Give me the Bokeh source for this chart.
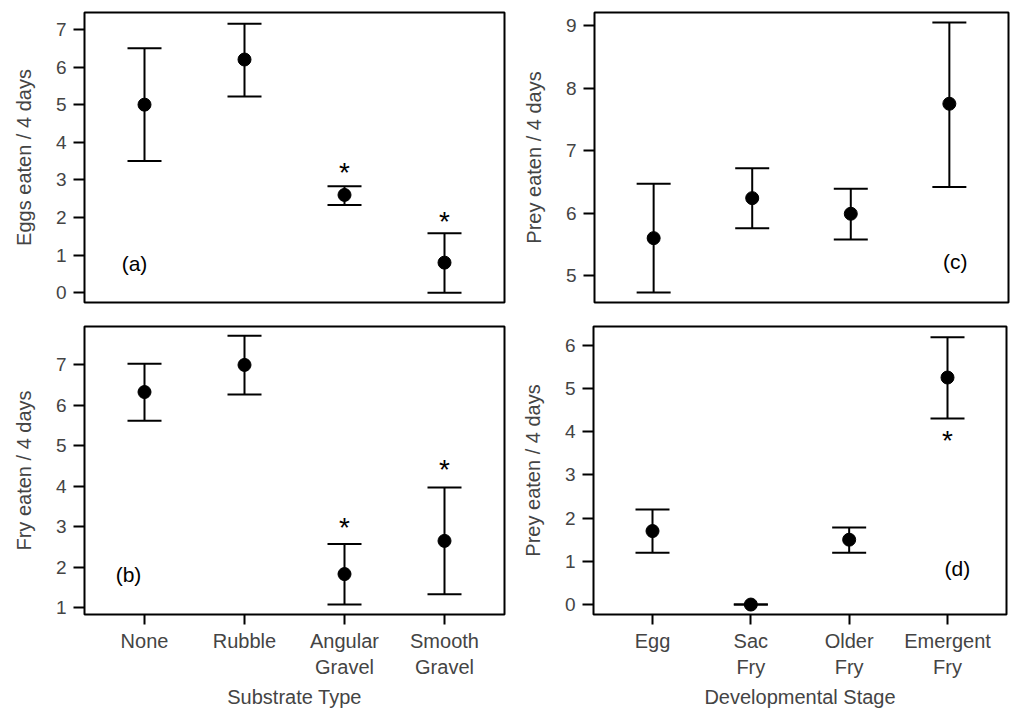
from bokeh.plotting import figure
from bokeh.models import ColumnDataSource, Whisker, TeeHead, FixedTicker, Range1d, Label
from bokeh.layouts import column, row
from bokeh.embed import file_html
from bokeh.resources import INLINE
from bokeh.core.properties import value

# ---------------- data ----------------
substrate = ["None", "Rubble", "Angular\nGravel", "Smooth\nGravel"]
stage = ["Egg", "Sac\nFry", "Older\nFry", "Emergent\nFry"]

# (a) eggs eaten by substrate
eggs_mean = [5.0, 6.2, 2.6, 0.8]
eggs_upper = [6.5, 7.15, 2.83, 1.58]
eggs_lower = [3.5, 5.22, 2.33, 0.0]
eggs_star_cat = [3, 4]
eggs_star_y = [3.38, 2.07]

# (b) fry eaten by substrate
fry_mean = [6.33, 7.0, 1.83, 2.65]
fry_upper = [7.03, 7.72, 2.57, 3.97]
fry_lower = [5.62, 6.27, 1.08, 1.33]
fry_star_cat = [3, 4]
fry_star_y = [3.16, 4.6]

# (c) prey eaten by developmental stage
prey_c_mean = [5.6, 6.24, 5.99, 7.75]
prey_c_upper = [6.47, 6.72, 6.39, 9.05]
prey_c_lower = [4.73, 5.76, 5.58, 6.42]

# (d) prey eaten by developmental stage
prey_d_mean = [1.7, 0.0, 1.5, 5.25]
prey_d_upper = [2.2, 0.0, 1.78, 6.18]
prey_d_lower = [1.2, 0.0, 1.2, 4.3]
prey_d_star_cat = [4]
prey_d_star_y = [3.96]

FONT = "Liberation Sans"


def panel(mean, upper, lower, ylabel, yrange, yticks, xlabels, xtitle,
          stars_x, stars_y, tag, tag_xy, size, borders):
    left, right, top, bottom = borders
    w, h = size
    p = figure(width=w, height=h, output_backend="svg",
               toolbar_location=None, x_range=Range1d(0.4, 4.6),
               y_range=Range1d(*yrange),
               min_border_left=left, min_border_right=right,
               min_border_top=top, min_border_bottom=bottom)
    p.grid.visible = False
    p.outline_line_color = "black"
    p.outline_line_width = 2
    p.outline_line_alpha = 1
    p.background_fill_color = "white"

    cats = list(range(1, len(mean) + 1))
    src = ColumnDataSource(dict(x=cats, mean=mean, upper=upper, lower=lower))
    wh = Whisker(base="x", upper="upper", lower="lower", source=src,
                 line_color="black", line_width=2,
                 upper_head=TeeHead(size=34, line_width=2, line_color="black"),
                 lower_head=TeeHead(size=34, line_width=2, line_color="black"))
    p.add_layout(wh)
    p.scatter("x", "mean", source=src, size=13, fill_color="black",
              line_color="black")

    if stars_x:
        p.text(x=stars_x, y=stars_y, text=["*"] * len(stars_x),
               text_font=value(FONT), text_font_size="28px",
               text_align="center", text_baseline="middle", y_offset=7,
               text_color="black")

    p.add_layout(Label(x=tag_xy[0], y=tag_xy[1], text=tag,
                       text_font=FONT, text_font_size="21px",
                       text_align="center", text_baseline="middle",
                       text_color="black"))

    ya = p.yaxis[0]
    ya.ticker = FixedTicker(ticks=yticks)
    ya.axis_label = ylabel
    ya.axis_label_text_font = FONT
    ya.axis_label_text_font_size = "20px"
    ya.axis_label_text_font_style = "normal"
    ya.axis_label_standoff = 18
    ya.major_label_text_font = FONT
    ya.major_label_text_font_size = "19px"
    ya.major_label_standoff = 7
    ya.major_tick_out = 11
    ya.major_tick_in = 0
    ya.major_tick_line_width = 2
    ya.minor_tick_line_color = None
    ya.axis_line_color = None

    xa = p.xaxis[0]
    if xlabels is None:
        xa.visible = False
    else:
        xa.ticker = FixedTicker(ticks=cats)
        xa.major_label_overrides = {c: l for c, l in zip(cats, xlabels)}
        xa.axis_label = xtitle
        xa.axis_label_text_font = FONT
        xa.axis_label_text_font_size = "20px"
        xa.axis_label_text_font_style = "normal"
        xa.axis_label_standoff = 5
        xa.major_label_text_font = FONT
        xa.major_label_text_font_size = "20px"
        xa.major_label_standoff = 5
        xa.major_tick_out = 10
        xa.major_tick_in = 0
        xa.major_tick_line_width = 2
        xa.minor_tick_line_color = None
        xa.axis_line_color = None
    return p


pa = panel(eggs_mean, eggs_upper, eggs_lower, "Eggs eaten / 4 days",
           (-0.26, 7.45), list(range(0, 8)), None, None,
           eggs_star_cat, eggs_star_y, "(a)", (0.9, 0.79),
           (518, 318), (84, 14, 9, 16))
pb = panel(fry_mean, fry_upper, fry_lower, "Fry eaten / 4 days",
           (0.83, 7.95), list(range(1, 8)), substrate, "Substrate Type",
           fry_star_cat, fry_star_y, "(b)", (0.84, 1.83),
           (518, 392), (84, 14, 7, 92))
pc = panel(prey_c_mean, prey_c_upper, prey_c_lower, "Prey eaten / 4 days",
           (4.57, 9.21), list(range(5, 10)), None, None,
           [], [], "(c)", (4.06, 5.22),
           (500, 318), (76, 10, 12, 14))
pd = panel(prey_d_mean, prey_d_upper, prey_d_lower, "Prey eaten / 4 days",
           (-0.23, 6.43), list(range(0, 7)), stage, "Developmental Stage",
           prey_d_star_cat, prey_d_star_y, "(d)", (4.1, 0.84),
           (500, 392), (74, 12, 8, 90))

layout = column(row(pa, pc), row(pb, pd))
open("out.html", "w").write(file_html(layout, INLINE))
